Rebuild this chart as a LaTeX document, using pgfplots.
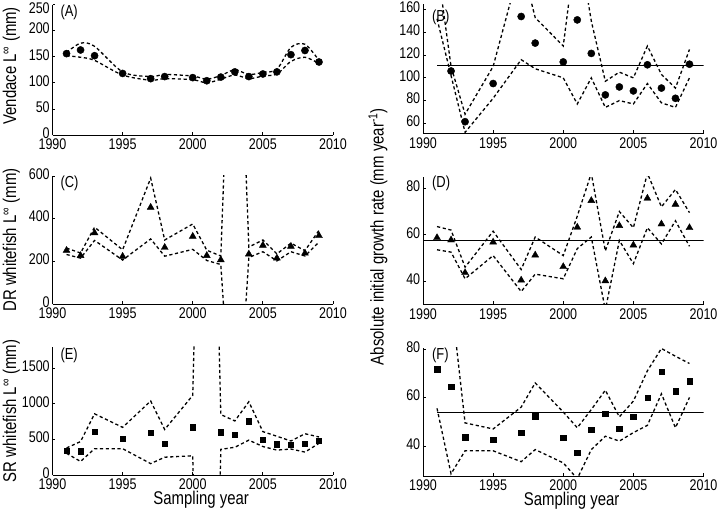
\documentclass[border=0pt]{standalone}
\usepackage{fontspec}
\setmainfont{Liberation Sans}[FakeStretch=0.81]
\usepackage{pgfplots}
\usepackage{pgfplotstable}
\pgfplotsset{compat=1.18}

\pgfplotstableread{
yr v lo hi
1991 156 152 158
1992 163 149 176
1993 152 143 170
1995 118 115 121
1997 108 105 112
1998 112 108 116
2000 110 106 113
2001 104 100 107
2002 111 107 114
2003 121 115 125
2004 112 108 116
2005 117 113 120
2006 121 117 126
2007 154 141 168
2008 162 149 174
2009 140 137 143
}\tabA

\pgfplotstableread{
yr v lo hi
1991 nan 152 200
1992 106 102 110
1993 61.4 52 68
1995 95 82 110
1997 154 116 202
1998 130.6 108 153
2000 114 100 128
2001 151 77 225
2002 121.5 100 150
2003 85 74 97
2004 92 80 105
2005 88.5 77 100
2006 111.5 95 128
2007 91 78 103
2008 82 74 91
2009 112 100 125
}\tabB

\pgfplotstableread{
yr v lo hi
1991 251 232 262
1992 227 215 239
1993 333 298 360
1995 223 206 254
1997 453 305 590
1998 265 224 300
2000 317 256 375
2001 227 204 252
2002 207 185 225
2003 nan -800 2000
2004 234 218 267
2005 275 245 300
2006 215 202 235
2007 270 245 285
2008 238 225 250
2009 320 290 345
}\tabC

\pgfplotstableread{
yr v lo hi
1991 58.7 53.5 63.5
1992 57.7 52.5 62
1993 43.6 41 46
1995 56.8 51 61.5
1997 40.4 35.5 45
1998 51.2 43 59
2000 46.2 41 51
2001 63.2 54 68
2002 74.7 59 86.5
2003 40.1 27.5 53
2004 63.9 57.5 70
2005 55.5 47.5 63
2006 75.7 63 86.5
2007 64.6 56 72
2008 73.1 66 79.5
2009 63 55 69.5
}\tabD

\pgfplotstableread{
yr v lo hi
1991 341 305 380
1992 332 190 470
1993 607 370 860
1995 514 370 670
1997 593 160 1040
1998 444 250 640
2000 673 270 1120
2001 nan -9000 9000
2002 603 360 850
2003 565 390 760
2004 757 490 1030
2005 500 400 610
2006 435 350 545
2007 425 365 478
2008 444 322 580
2009 481 445 535
}\tabE

\pgfplotstableread{
yr v lo hi
1991 71.6 55.5 110
1992 64.4 28.5 101
1993 43.6 38 49.5
1995 42.5 38 47
1997 45.4 33.5 56
1998 52.2 38.5 66
2000 43.4 33 54
2001 37.2 26.5 47.5
2002 46.7 38.5 55
2003 53.3 44 63
2004 47.2 42 52
2005 52.1 45.5 58.5
2006 59.9 48.5 71
2007 70.7 61.5 80.2
2008 62.5 47.5 77
2009 66.7 60 74
}\tabF

\pgfplotsset{
  panel/.style={
    scale only axis, width=280.5bp, clip mode=individual,
    xmin=1990, xmax=2010, xtick={1990,1995,...,2010},
    axis x line*=bottom, axis y line*=left,
    axis line style={-, line width=0.8bp, black},
    tick align=inside, major tick length=3bp,
    tick style={line width=0.8bp, black},
    /pgf/number format/assume math mode=true,
    /pgf/number format/1000 sep={},
    ticklabel style={font=\fontsize{15.5}{17}\selectfont},
    xticklabel style={inner sep=0.5bp, yshift=-3.5bp},
    yticklabel style={inner sep=0.5bp, xshift=-2.1bp, yshift=2bp},
    label style={font=\fontsize{18.5}{20}\selectfont},
    ylabel style={at={(axis description cs:-0.13,0.5)}, anchor=base},
    xlabel style={at={(axis description cs:0.53,-0.234)}, anchor=base},
  },
  ci/.style={black, line width=1.3bp, dash pattern=on 3.2bp off 2.6bp, no marks},
  circ/.style={only marks, mark=*, mark size=3.6bp, black},
  tri/.style={only marks, mark=triangle*, mark size=4bp, black},
  sq/.style={only marks, mark=square*, mark size=2.7bp, black},
  mean/.style={black, line width=0.7bp, no marks},
}
\newcommand{\plab}[2]{\node[anchor=west, inner sep=0pt, font=\fontsize{16}{18}\selectfont] at (axis description cs:#1) {#2};}

\begin{document}
\begin{tikzpicture}
\path[use as bounding box] (0,0) rectangle (719bp,512bp);

% (A)
\begin{axis}[panel, at={(52.5bp,377bp)}, anchor=south west, height=130.4bp,
  ymin=0, ymax=250, ytick={0,50,...,200},
  extra y ticks={250},
  extra y tick style={yticklabel style={yshift=-5.5bp}},
  ylabel={Vendace L\textsuperscript{∞} (mm)},
  ylabel style={at={(axis description cs:-0.13,0.53)}}]
\addplot[ci, smooth] table[x=yr,y=hi] {\tabA};
\addplot[ci, smooth] table[x=yr,y=lo] {\tabA};
\addplot[circ] table[x=yr,y=v] {\tabA};
\plab{0.028,0.938}{(A)}
\end{axis}

% (B)
\begin{axis}[panel, at={(423bp,378.7bp)}, anchor=south west, height=129.3bp,
  ymin=51.2, ymax=165, ytick={60,80,...,160}]
\addplot[ci] table[x=yr,y=hi] {\tabB};
\addplot[ci] table[x=yr,y=lo] {\tabB};
\addplot[mean] coordinates {(1991,111.2) (2010,111.2)};
\addplot[circ] table[x=yr,y=v] {\tabB};
\plab{0.032,0.9}{(B)}
\end{axis}

% (C)
\begin{axis}[panel, at={(52.5bp,208bp)}, anchor=south west, height=128bp,
  ymin=0, ymax=600, ytick={0,200,400,600},
  ylabel={DR whitefish L\textsuperscript{∞} (mm)}]
\addplot[ci] table[x=yr,y=hi] {\tabC};
\addplot[ci] table[x=yr,y=lo] {\tabC};
\addplot[tri] table[x=yr,y=v] {\tabC};
\plab{0.028,0.945}{(C)}
\end{axis}

% (D)
\begin{axis}[panel, at={(423bp,207.7bp)}, anchor=south west, height=127.6bp,
  ymin=30, ymax=85, ytick={40,60,80},
  ylabel={Absolute initial growth rate (mm year\textsuperscript{-1})},
  ylabel style={at={(axis description cs:-0.14,0.53)}}]
\addplot[ci] table[x=yr,y=hi] {\tabD};
\addplot[ci] table[x=yr,y=lo] {\tabD};
\addplot[mean] coordinates {(1990,57.6) (2010,57.6)};
\addplot[tri] table[x=yr,y=v] {\tabD};
\plab{0.032,0.948}{(D)}
\end{axis}

% (E)
\begin{axis}[panel, at={(52.5bp,37bp)}, anchor=south west, height=128bp,
  ymin=0, ymax=1800, ytick={0,500,1000,1500},
  ylabel={SR whitefish L\textsuperscript{∞} (mm)},
  xlabel={Sampling year}]
\addplot[ci] table[x=yr,y=hi] {\tabE};
\addplot[ci] table[x=yr,y=lo] {\tabE};
\addplot[sq] table[x=yr,y=v] {\tabE};
\plab{0.028,0.9375}{(E)}
\end{axis}

% (F)
\begin{axis}[panel, at={(423bp,36bp)}, anchor=south west, height=128bp,
  ymin=27.6, ymax=80.4, ytick={40,60,80},
  xlabel={Sampling year}]
\addplot[ci] table[x=yr,y=hi] {\tabF};
\addplot[ci] table[x=yr,y=lo] {\tabF};
\addplot[mean] coordinates {(1991,53.8) (2010,53.8)};
\addplot[sq] table[x=yr,y=v] {\tabF};
\plab{0.032,0.945}{(F)}
\end{axis}
\end{tikzpicture}
\end{document}
